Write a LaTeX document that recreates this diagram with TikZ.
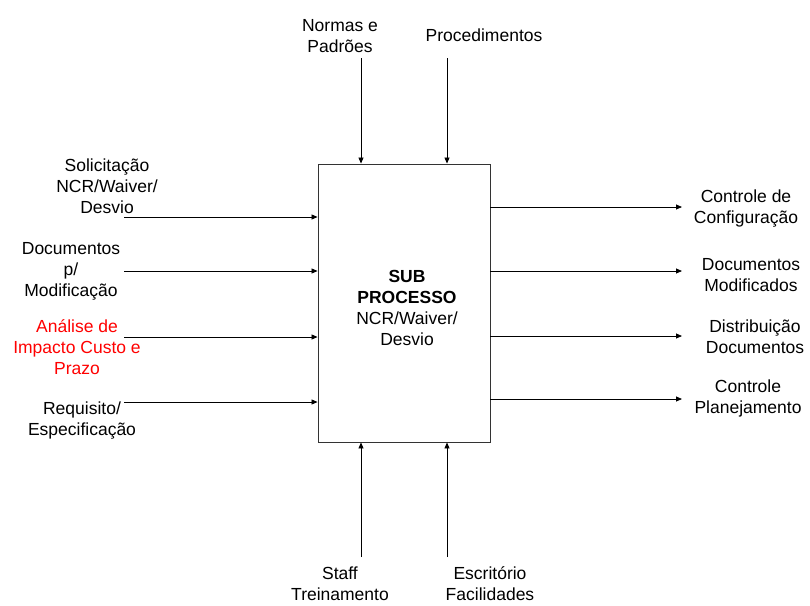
\documentclass[tikz,border=0pt]{standalone}
\usepackage{fontspec}
\setmainfont{Liberation Sans}
\usetikzlibrary{arrows.meta}
\begin{document}
\begin{tikzpicture}[x=1pt,y=-1pt,
  lbl/.style={align=center,inner sep=0pt,font=\fontsize{17.5}{21}\selectfont},
  arr/.style={draw=black,line width=0.8pt,-{Triangle[length=6pt,width=5pt]}},
  procbox/.style={draw=black!80,line width=0.9pt,minimum width=172pt,minimum height=278pt,inner sep=0pt}]
\useasboundingbox (0,0) rectangle (810,605);
\node[procbox] (box) at (404,303) {};
\node[lbl] (boxtxt) at (407,308) {\textbf{SUB}\\\textbf{PROCESSO}\\NCR/Waiver/\\Desvio};
% top controls
\node[lbl] (t1) at (340,36) {Normas e\\Padrões};
\node[lbl] (t2) at (484,35) {Procedimentos};
\coordinate (ct1) at (361,58);
\coordinate (ct2) at (447,58);
\draw[arr] (ct1) -- (ct1 |- box.north);
\draw[arr] (ct2) -- (ct2 |- box.north);
% bottom mechanisms
\node[lbl] (b1) at (340,584) {Staff\\Treinamento};
\node[lbl] (b2) at (490,584) {Escritório\\Facilidades};
\coordinate (cb1) at (361,557);
\coordinate (cb2) at (447,557);
\draw[arr] (cb1) -- (cb1 |- box.south);
\draw[arr] (cb2) -- (cb2 |- box.south);
% inputs
\node[lbl] (i1) at (107,186) {Solicitação\\NCR/Waiver/\\Desvio};
\node[lbl] (i2) at (71,271) {Documentos\\p/\\Modificação};
\node[lbl,text=red] (i3) at (77,347) {Análise de\\Impacto Custo e\\Prazo};
\node[lbl] (i4) at (82,421) {Requisito/\\Especificação};
\coordinate (ci1) at (124,217);
\coordinate (ci2) at (124,271);
\coordinate (ci3) at (124,337);
\coordinate (ci4) at (124,402);
\foreach \c in {ci1,ci2,ci3,ci4} \draw[arr] (\c) -- (\c -| box.west);
% outputs
\node[lbl] (o1) at (746,209) {Controle de\\Configuração};
\node[lbl] (o2) at (751,275) {Documentos\\Modificados};
\node[lbl] (o3) at (755,337) {Distribuição\\Documentos};
\node[lbl] (o4) at (748,398) {Controle\\Planejamento};
\coordinate (co1) at (682,207);
\coordinate (co2) at (682,271);
\coordinate (co3) at (682,336);
\coordinate (co4) at (682,399);
\foreach \c in {co1,co2,co3,co4} \draw[arr] (box.east |- \c) -- (\c);
\end{tikzpicture}
\end{document}
